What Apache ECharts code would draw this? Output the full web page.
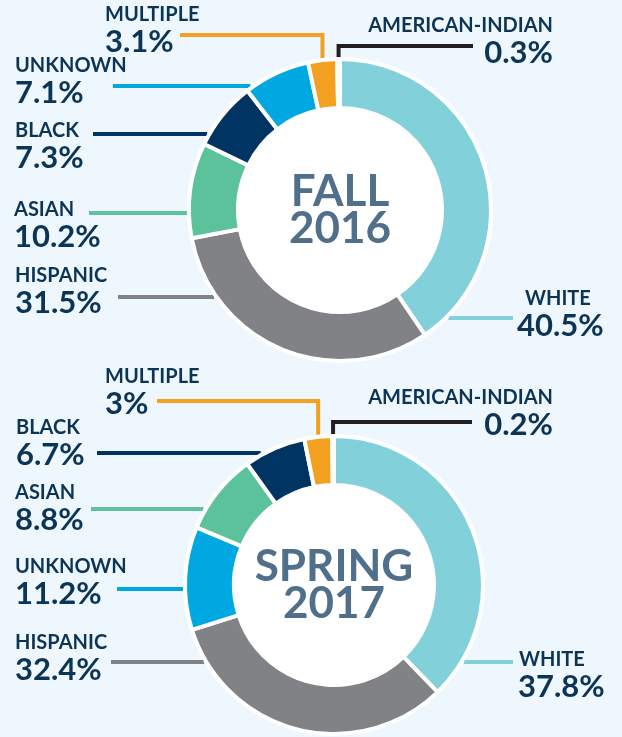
<!DOCTYPE html>
<html>
<head>
<meta charset="utf-8">
<script src="https://cdn.jsdelivr.net/npm/echarts@6/dist/echarts.min.js"></script>
<style>
  html, body { margin: 0; padding: 0; background: #eef7fd; }
  #item { width: 622px; height: 737px; }
</style>
</head>
<body>
<div id="item"></div>
<script>
	var item = echarts.init(document.getElementById('item'));
	/*-- 类别 --*/
	let fallNames = ['WHITE','HISPANIC','ASIAN','BLACK','UNKNOWN','MULTIPLE','AMERICAN-INDIAN'];
	let fallValues = [40.5, 31.5, 10.2, 7.3, 7.1, 3.1, 0.3];
	let springNames = ['WHITE','HISPANIC','UNKNOWN','ASIAN','BLACK','MULTIPLE','AMERICAN-INDIAN'];
	let springValues = [37.8, 32.4, 11.2, 8.8, 6.7, 3, 0.2];
	let titles = ['FALL\n2016', 'SPRING\n2017'];

	let colors = {
		'WHITE' : '#82d0da',
		'HISPANIC' : '#808285',
		'ASIAN' : '#5cc29c',
		'BLACK' : '#003462',
		'UNKNOWN' : '#00a8e1',
		'MULTIPLE' : '#f3a021',
		'AMERICAN-INDIAN' : '#231f20'
	};
	let textColor = '#0c3455';
	let font = 'Lato';
	let weight = 'bold';

	// 两个环的位置
	let rings = [
		{ center: [340, 210], inner: 102, outer: 151 },
		{ center: [334, 585], inner: 100, outer: 149 }
	];
	// 标签位置: x, 文字中线 mid, 引线 y, 引线起点 sx, elbow = 折线
	let fallPos = {
		'MULTIPLE' : { x: 105, mid: 28, ly: 35, sx: 180, elbow: true },
		'AMERICAN-INDIAN' : { x: 553, mid: 39, ly: 46, sx: 473, elbow: true, right: true },
		'UNKNOWN' : { x: 15, mid: 79, ly: 86, sx: 113 },
		'BLACK' : { x: 15, mid: 144, ly: 134, sx: 93 },
		'ASIAN' : { x: 14, mid: 223, ly: 213, sx: 89 },
		'HISPANIC' : { x: 15, mid: 289, ly: 297, sx: 118 },
		'WHITE' : { x: 517, mid: 312, ly: 318, sx: 513, side: 1, pad: 8 }
	};
	let springPos = {
		'MULTIPLE' : { x: 105, mid: 390, ly: 401, sx: 157, elbow: true },
		'AMERICAN-INDIAN' : { x: 553, mid: 411, ly: 422, sx: 472, elbow: true, right: true },
		'BLACK' : { x: 16, mid: 441, ly: 453, sx: 97 },
		'ASIAN' : { x: 15, mid: 506, ly: 509, sx: 91 },
		'UNKNOWN' : { x: 15, mid: 580, ly: 589, sx: 117 },
		'HISPANIC' : { x: 15, mid: 656, ly: 662, sx: 111 },
		'WHITE' : { x: 518, mid: 673, ly: 662, sx: 513, side: 1, pad: 1 }
	};

	function makeLayout(names, pos, ring) {
		return function (params) {
			let p = pos[names[params.dataIndex]];
			let cx = ring.center[0], cy = ring.center[1], R = ring.outer + 2;
			let pts;
			if (p.elbow) {
				let ex = params.labelLinePoints ? params.labelLinePoints[0][0] : cx;
				let ey = cy - Math.sqrt(R * R - (ex - cx) * (ex - cx));
				pts = [[p.sx, p.ly], [ex, p.ly], [ex, ey]];
			} else {
				let dx = Math.sqrt(R * R - (p.ly - cy) * (p.ly - cy));
				pts = [[p.sx, p.ly], [cx + (p.side || -1) * dx, p.ly]];
			}
			return {
				x: p.x,
				y: p.mid - 24,
				align: p.right ? 'right' : 'left',
				verticalAlign: 'top',
				hideOverlap: false,
				labelLinePoints: pts
			};
		};
	}

	function ringSeries(names, values, pos, ring) {
		let nameStyle = { fontFamily: font, fontWeight: weight, fontSize: 20, lineHeight: 22, color: textColor };
		return {
			type: 'pie',
			center: ring.center,
			radius: [ring.inner, ring.outer],
			startAngle: 90,
			clockwise: true,
			avoidLabelOverlap: false,
			silent: true,
			itemStyle: {
				borderColor: '#fff',
				borderWidth: 4
			},
			label: {
				show: true,
				position: 'outside',
				formatter: function (param) {
					let p = pos[param.name];
					let n = p.pad ? 'np' + p.pad : 'n';
					return '{' + n + '|' + param.name + '}\n{v|' + param.value + '%}';
				},
				rich: {
					n: nameStyle,
					np8: Object.assign({}, nameStyle, { padding: [0, 0, 0, 8] }),
					np1: Object.assign({}, nameStyle, { padding: [0, 0, 0, 1] }),
					v: { fontFamily: font, fontWeight: weight, fontSize: 31, lineHeight: 31, color: textColor }
				}
			},
			labelLine: {
				show: true,
				smooth: false,
				lineStyle: { width: 4 }
			},
			labelLayout: makeLayout(names, pos, ring),
			data: names.map(function (n, i) {
				return { name: n, value: values[i], itemStyle: { color: colors[n] } };
			}),
			z: 2
		};
	}

	function centerSeries(title, ring) {
		return {
			type: 'pie',
			center: ring.center,
			radius: [0, ring.inner + 1],
			silent: true,
			itemStyle: { color: '#fff' },
			label: {
				show: true,
				position: 'center',
				formatter: title,
				fontFamily: font,
				fontWeight: weight,
				fontSize: 44,
				lineHeight: 37,
				color: '#506f8b'
			},
			labelLine: { show: false },
			data: [{ name: title, value: 1 }],
			z: 1
		};
	}

	let _item = {
		backgroundColor: '#eef7fd',
		animation: false,
		series: [
			centerSeries(titles[0], rings[0]),
			ringSeries(fallNames, fallValues, fallPos, rings[0]),
			centerSeries(titles[1], rings[1]),
			ringSeries(springNames, springValues, springPos, rings[1])
		]
	};
	item.setOption(_item);
</script>
</body>
</html>
